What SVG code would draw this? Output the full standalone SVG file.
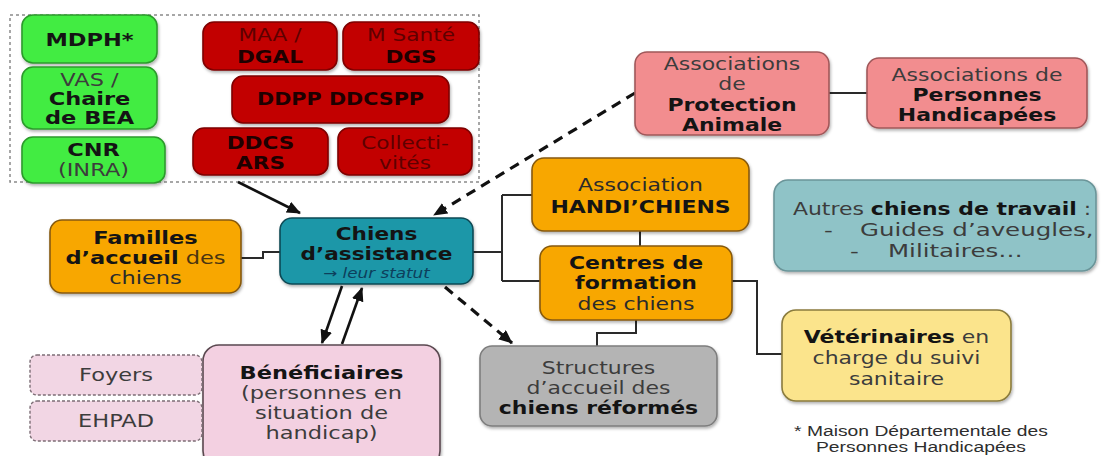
<svg xmlns="http://www.w3.org/2000/svg" width="1101" height="456" viewBox="0 0 1101 456">
<style>
text{font-family:"DejaVu Sans","Liberation Sans",sans-serif;font-size:18px;text-anchor:middle;fill:#2b2b2b}
.b{font-weight:bold;fill:#141414}
.r{fill:#3c3c3c}
.it{font-style:italic;font-size:14px;fill:#0d3f5c}
.bx{stroke-width:1.6;filter:url(#sh)}
.green{fill:#43ec43;stroke:#2c9a2c}
.red{fill:#c20000;stroke:#7e0000}
.redt{fill:#5e0000}
.redb{fill:#1e0000;font-weight:bold}
.orange{fill:#f8a703;stroke:#86590a}
.teal{fill:#1b97a8;stroke:#0f4a55}
.salmon{fill:#f28d8f;stroke:#a0585a}
.blue{fill:#8fc3c7;stroke:#6b9599}
.yellow{fill:#fbe48c;stroke:#8a7b3e}
.grey{fill:#b4b4b4;stroke:#7d7d7d}
.pink{fill:#f3d0e1;stroke:#5a4850}
.pinkd{fill:#f2d6e4;stroke:#7d6e76;stroke-dasharray:3 2;stroke-width:1.4}
.ln{fill:none;stroke:#2a2a2a;stroke-width:2}
.ar{fill:none;stroke:#111;stroke-width:2.6}
.da{fill:none;stroke:#111;stroke-width:3.2;stroke-dasharray:10 7}
.note{font-family:"Liberation Sans",Arial,sans-serif;font-size:14.5px;fill:#2e2e2e}
.st{text-anchor:start}
</style>
<defs>
<filter id="sh" x="-10%" y="-10%" width="130%" height="140%">
<feDropShadow dx="1" dy="2" stdDeviation="1.5" flood-color="#000" flood-opacity="0.3"/>
</filter>
<marker id="ah" viewBox="0 0 14 12" refX="13" refY="6" markerWidth="14" markerHeight="12" markerUnits="userSpaceOnUse" orient="auto">
<path d="M0,0 L14,6 L0,12 z" fill="#111"/>
</marker>
</defs>
<rect width="1101" height="456" fill="#ffffff"/>

<g id="container">
<rect x="10" y="15" width="469" height="167" fill="none" stroke="#8a8a8a" stroke-width="1.5" stroke-dasharray="3 3"/>
</g>

<g id="connectors">
<path class="ar" d="M238,182 L300,213" marker-end="url(#ah)"/>
<path class="da" d="M635,93 L434,215" marker-end="url(#ah)"/>
<path class="da" d="M445,287 L512,343" marker-end="url(#ah)"/>
<path class="ar" d="M342,286 L322,343" marker-end="url(#ah)"/>
<path class="ar" d="M342,344 L362,288" marker-end="url(#ah)"/>
<path class="ln" d="M241,258 H263 V252 H280"/>
<path class="ln" d="M473,252 H502"/>
<path class="ln" d="M502,195 V281"/>
<path class="ln" d="M502,195 H532"/>
<path class="ln" d="M502,281 H540"/>
<path class="ln" d="M640,231 V246"/>
<path class="ln" d="M636,320 V333 H597 V346"/>
<path class="ln" d="M732,281 H757 V354 H782"/>
<path class="ln" d="M829,93 H867"/>
</g>

<g id="mdph">
<rect class="bx green" x="22" y="15" width="135" height="48" rx="11"/>
<g transform="translate(89.5 0) scale(1.25 1)"><text class="b" x="0" y="46">MDPH*</text></g>
</g>
<g id="vas">
<rect class="bx green" x="22" y="67" width="135" height="62" rx="11"/>
<g transform="translate(89.5 0) scale(1.25 1)">
<text class="r" x="0" y="86">VAS /</text>
<text class="b" x="0" y="105">Chaire</text>
<text class="b" x="0" y="124">de BEA</text>
</g>
</g>
<g id="cnr">
<rect class="bx green" x="22" y="137" width="143" height="46" rx="11"/>
<g transform="translate(93.5 0) scale(1.25 1)">
<text class="b" x="0" y="156">CNR</text>
<text class="r" x="0" y="176">(INRA)</text>
</g>
</g>

<g id="maa">
<rect class="bx red" x="203" y="22" width="134" height="48" rx="11"/>
<g transform="translate(270 0) scale(1.2 1)">
<text class="redt" x="0" y="41">MAA /</text>
<text class="redb" x="0" y="63">DGAL</text>
</g>
</g>
<g id="msante">
<rect class="bx red" x="343" y="22" width="136" height="48" rx="11"/>
<g transform="translate(411 0) scale(1.2 1)">
<text class="redt" x="0" y="41">M Santé</text>
<text class="redb" x="0" y="63">DGS</text>
</g>
</g>
<g id="ddpp">
<rect class="bx red" x="232" y="76" width="217" height="47" rx="11"/>
<g transform="translate(340.5 0) scale(1.15 1)">
<text class="redb" x="0" y="105">DDPP DDCSPP</text>
</g>
</g>
<g id="ddcs">
<rect class="bx red" x="193" y="128" width="135" height="47" rx="11"/>
<g transform="translate(260.5 0) scale(1.2 1)">
<text class="redb" x="0" y="149">DDCS</text>
<text class="redb" x="0" y="169">ARS</text>
</g>
</g>
<g id="collectivites">
<rect class="bx red" x="338" y="128" width="134" height="47" rx="11"/>
<g transform="translate(405 0) scale(1.2 1)">
<text class="redt" x="0" y="149">Collecti-</text>
<text class="redt" x="0" y="169">vités</text>
</g>
</g>

<g id="familles">
<rect class="bx orange" x="50" y="220" width="191" height="73" rx="12"/>
<g transform="translate(145.5 0) scale(1.25 1)">
<text class="b" x="0" y="244">Familles</text>
<text x="0" y="264"><tspan class="b">d’accueil</tspan><tspan fill="#4a3410"> des</tspan></text>
<text x="0" y="284" fill="#4a3410">chiens</text>
</g>
</g>

<g id="chiens">
<rect class="bx teal" x="280" y="218" width="193" height="66" rx="12"/>
<g transform="translate(376.5 0) scale(1.2 1)">
<text class="b" x="0" y="240" fill="#0b2a33">Chiens</text>
<text class="b" x="0" y="260" fill="#0b2a33">d’assistance</text>
<text class="it" x="0" y="278">→ leur statut</text>
</g>
</g>

<g id="beneficiaires">
<rect class="bx pink" x="203" y="345" width="237" height="122" rx="16"/>
<g transform="translate(321.5 0) scale(1.25 1)">
<text class="b" x="0" y="379">Bénéficiaires</text>
<text class="r" x="0" y="399">(personnes en</text>
<text class="r" x="0" y="419">situation de</text>
<text class="r" x="0" y="439">handicap)</text>
</g>
</g>

<g id="foyers">
<rect class="pinkd" x="30" y="355" width="172" height="40" rx="7"/>
<g transform="translate(116 0) scale(1.25 1)"><text class="r" x="0" y="381">Foyers</text></g>
</g>
<g id="ehpad">
<rect class="pinkd" x="30" y="401" width="172" height="40" rx="7"/>
<g transform="translate(116 0) scale(1.25 1)"><text class="r" x="0" y="427">EHPAD</text></g>
</g>

<g id="structures">
<rect class="bx grey" x="480" y="346" width="237" height="80" rx="12"/>
<g transform="translate(598.5 0) scale(1.22 1)">
<text class="r" x="0" y="374">Structures</text>
<text class="r" x="0" y="394">d’accueil des</text>
<text class="b" x="0" y="414">chiens réformés</text>
</g>
</g>

<g id="handichiens">
<rect class="bx orange" x="532" y="158" width="217" height="73" rx="12"/>
<g transform="translate(640.5 0) scale(1.22 1)">
<text x="0" y="191" fill="#4a3410">Association</text>
<text class="b" x="0" y="213">HANDI’CHIENS</text>
</g>
</g>

<g id="centres">
<rect class="bx orange" x="540" y="246" width="192" height="74" rx="12"/>
<g transform="translate(636 0) scale(1.22 1)">
<text class="b" x="0" y="269">Centres de</text>
<text class="b" x="0" y="289">formation</text>
<text x="0" y="310" fill="#4a3410">des chiens</text>
</g>
</g>

<g id="protection-animale">
<rect class="bx salmon" x="635" y="52" width="194" height="83" rx="12"/>
<g transform="translate(732 0) scale(1.22 1)">
<text class="r" x="0" y="70">Associations</text>
<text class="r" x="0" y="90">de</text>
<text class="b" x="0" y="111">Protection</text>
<text class="b" x="0" y="131">Animale</text>
</g>
</g>

<g id="personnes-handicapees">
<rect class="bx salmon" x="867" y="58" width="220" height="70" rx="12"/>
<g transform="translate(977 0) scale(1.22 1)">
<text class="r" x="0" y="81">Associations de</text>
<text class="b" x="0" y="101">Personnes</text>
<text class="b" x="0" y="121">Handicapées</text>
</g>
</g>

<g id="autres-chiens">
<rect class="bx blue" x="774" y="180" width="322" height="91" rx="14"/>
<g transform="translate(942 0) scale(1.22 1)">
<text x="0" y="215"><tspan class="r">Autres </tspan><tspan class="b">chiens de travail</tspan><tspan class="r"> :</tspan></text>
</g>
<text class="r st" transform="translate(824 0) scale(1.36 1)" x="0" y="236">-</text>
<text class="r st" transform="translate(860 0) scale(1.36 1)" x="0" y="236">Guides d’aveugles,</text>
<text class="r st" transform="translate(850 0) scale(1.36 1)" x="0" y="257">-</text>
<text class="r st" transform="translate(888 0) scale(1.36 1)" x="0" y="257">Militaires…</text>
</g>

<g id="veterinaires">
<rect class="bx yellow" x="782" y="310" width="229" height="91" rx="14"/>
<g transform="translate(896.5 0) scale(1.22 1)">
<text x="0" y="343"><tspan class="b">Vétérinaires</tspan><tspan class="r"> en</tspan></text>
<text class="r" x="0" y="364">charge du suivi</text>
<text class="r" x="0" y="385">sanitaire</text>
</g>
</g>

<g id="footnote">
<g transform="translate(921 0) scale(1.33 1)">
<text class="note" x="0" y="436">* Maison Départementale des</text>
<text class="note" x="0" y="452">Personnes Handicapées</text>
</g>
</g>
</svg>
